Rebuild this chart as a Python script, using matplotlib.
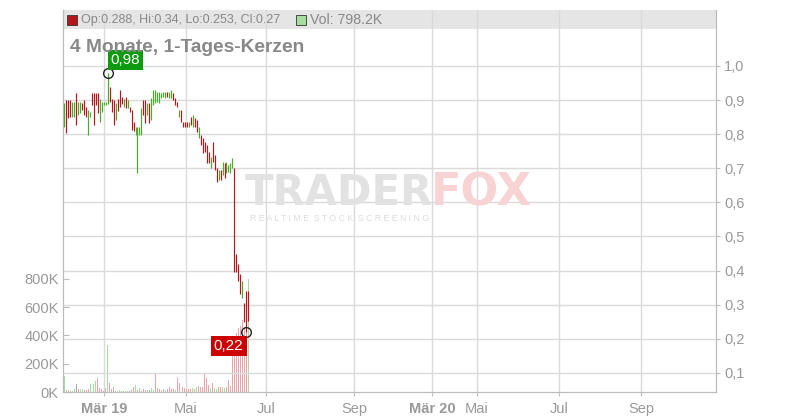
import matplotlib.pyplot as plt
from matplotlib.ticker import FixedLocator

plt.rcParams['font.family'] = ['Liberation Sans', 'DejaVu Sans']

# Kerzen: Hoch / Tief je Handelstag, Richtung g = steigend, r = fallend
highs = [0.891, 0.900, 0.900, 0.900, 0.893, 0.895, 0.920, 0.895, 0.895, 0.891,
         0.900, 0.881, 0.871, 0.866, 0.920, 0.920, 0.920, 0.920, 0.902, 0.895,
         0.895, 0.895, 0.980, 0.939, 0.902, 0.900, 0.891, 0.902, 0.930, 0.910,
         0.902, 0.910, 0.900, 0.881, 0.871, 0.837, 0.822, 0.822, 0.822, 0.876,
         0.900, 0.900, 0.891, 0.891, 0.905, 0.930, 0.928, 0.925, 0.925, 0.920,
         0.925, 0.925, 0.925, 0.925, 0.930, 0.920, 0.905, 0.895, 0.871, 0.871,
         0.837, 0.837, 0.837, 0.837, 0.851, 0.856, 0.847, 0.842, 0.822, 0.798,
         0.788, 0.778, 0.768, 0.749, 0.734, 0.778, 0.739, 0.700, 0.695, 0.695,
         0.719, 0.715, 0.719, 0.710, 0.715, 0.729, 0.700, 0.450, 0.420, 0.390,
         0.370, 0.305, 0.340, 0.340]
lows = [0.822, 0.803, 0.847, 0.851, 0.849, 0.851, 0.827, 0.856, 0.863, 0.871,
        0.856, 0.851, 0.798, 0.849, 0.884, 0.827, 0.884, 0.861, 0.837, 0.866,
        0.886, 0.886, 0.889, 0.895, 0.866, 0.827, 0.842, 0.869, 0.881, 0.889,
        0.881, 0.876, 0.876, 0.866, 0.812, 0.810, 0.798, 0.685, 0.798, 0.798,
        0.856, 0.832, 0.856, 0.832, 0.842, 0.886, 0.891, 0.895, 0.891, 0.905,
        0.910, 0.905, 0.910, 0.905, 0.905, 0.900, 0.886, 0.881, 0.851, 0.837,
        0.822, 0.822, 0.822, 0.822, 0.827, 0.822, 0.822, 0.807, 0.788, 0.768,
        0.744, 0.749, 0.715, 0.715, 0.700, 0.719, 0.695, 0.661, 0.666, 0.666,
        0.680, 0.671, 0.685, 0.690, 0.685, 0.700, 0.396, 0.396, 0.370, 0.330,
        0.320, 0.250, 0.220, 0.253]
dirs = ("grrrggrggr" "rrggrrrrgg" "gggrrrgrrr" "grgrrrgggg" "rrgrgggggg"
        "ggrggrrrgr" "rrrgrgrrgr" "rrrrgrrrgr" "grggggrrrr" "grrr")

# Volumen in Tausend, Farbe g / r / n (neutral)
volumes = [113, 14, 14, 9, 9, 19, 57, 21, 21, 21,
           14, 14, 21, 57, 7, 57, 78, 99, 26, 19,
           9, 26, 332, 66, 19, 35, 9, 9, 14, 7,
           7, 7, 7, 7, 14, 35, 49, 14, 26, 9,
           19, 14, 14, 14, 31, 14, 132, 26, 19, 14,
           19, 14, 19, 33, 19, 19, 14, 97, 61, 38,
           33, 26, 19, 19, 19, 26, 19, 33, 42, 33,
           33, 137, 97, 49, 26, 61, 26, 19, 38, 33,
           33, 26, 33, 85, 42, 261, 355, 417, 450, 470,
           509, 460, 674, 798]
vol_dirs = ("grgrggnrgg" "rrrggggrrr" "rrgrrrgggr" "rggnrrgrgg" "rrgnggr"
            "rrgrgrrrrg" "rrrrrrrrgr" "grrrrrrgrg" "grrggrrr" "rrrrrrrrg")

tick_pos = [20.1, 61.5, 102.0, 146.5, 185.9, 208.6, 250.1, 291.6]
tick_labels = ['Mär 19', 'Mai', 'Jul', 'Sep', 'Mär 20', 'Mai', 'Jul', 'Sep']
price_ticks = [0.1, 0.2, 0.3, 0.4, 0.5, 0.6, 0.7, 0.8, 0.9, 1.0]
vol_ticks = [0, 200, 400, 600, 800]

candle_col = {'g': '#4aaa2a', 'r': '#b5161b'}
vol_col = {'g': '#a6dca0', 'r': '#eaa3ab', 'n': '#aaaaaa'}
grey = '#999999'

fig = plt.figure(figsize=(8, 4.2), dpi=100)
axv = fig.add_axes([63 / 800, 28 / 420, 653 / 800, 382 / 420])
ax = axv.twinx()

x = list(range(len(highs)))

# Kopfzeile (grauer Balken)
axv.add_patch(plt.Rectangle((0, 0.95), 1, 0.05, transform=axv.transAxes,
                            facecolor='#e5e5e5', edgecolor='none', zorder=0))

# Volumen
axv.bar(x, volumes, width=0.5, color=[vol_col[c] for c in vol_dirs], zorder=2)
axv.set_ylim(0, 2700)
axv.set_xlim(-0.66, 329.5)
axv.yaxis.set_major_locator(FixedLocator(vol_ticks))
axv.set_yticklabels([f'{v}K' for v in vol_ticks])
axv.tick_params(axis='y', direction='in', length=4, color='#bbbbbb',
                labelcolor=grey, labelsize=10.5, pad=3)
axv.set_xticks(tick_pos)
axv.set_xticklabels(tick_labels)
for lbl in axv.get_xticklabels():
    if lbl.get_text().startswith('Mär'):
        lbl.set_fontweight('bold')
axv.tick_params(axis='x', direction='out', length=3, color='#bbbbbb',
                labelcolor=grey, labelsize=10.5, pad=4)
axv.grid(axis='x', color='#dadada', lw=1)
axv.set_axisbelow(True)

# Kerzen
ax.vlines(x, lows, highs, colors=[candle_col[c] for c in dirs], lw=0.85, zorder=3)
ax.set_ylim(0.044, 1.164)
ax.yaxis.set_major_locator(FixedLocator(price_ticks))
ax.set_yticklabels([f'{p:.1f}'.replace('.', ',') for p in price_ticks])
ax.tick_params(axis='y', direction='out', length=3, color='#bbbbbb',
               labelcolor=grey, labelsize=10.5, pad=3)
ax.grid(axis='y', color='#dadada', lw=1)
ax.set_axisbelow(True)

for a in (ax, axv):
    a.spines['top'].set_visible(False)
    for side in ('left', 'right', 'bottom'):
        a.spines[side].set_color('#bbbbbb')

# Hoch / Tief Markierungen
i_hi = highs.index(max(highs))
i_lo = lows.index(min(lows))
ax.plot([i_hi], [highs[i_hi]], 'o', ms=7, mfc='none', mec='#222222', mew=1, zorder=5)
ax.plot([i_lo], [lows[i_lo]], 'o', ms=7, mfc='none', mec='#222222', mew=1, zorder=5)
ax.annotate(f'{highs[i_hi]:.2f}'.replace('.', ','), xy=(i_hi, highs[i_hi]),
            xytext=(2, 4), textcoords='offset points', ha='left', va='bottom',
            color='white', fontsize=11, zorder=5,
            bbox=dict(boxstyle='square,pad=0.2', fc='#0f9a0f', ec='none'))
ax.annotate(f'{lows[i_lo]:.2f}'.replace('.', ','), xy=(i_lo, lows[i_lo]),
            xytext=(-2, -5), textcoords='offset points', ha='right', va='top',
            color='white', fontsize=11, zorder=5,
            bbox=dict(boxstyle='square,pad=0.2', fc='#cc0000', ec='none'))

# Wasserzeichen
ax.text(0.279, 0.522, 'TRADER', transform=ax.transAxes, fontsize=30,
        fontweight='bold', color='#e2e2e2', family='DejaVu Sans',
        ha='left', va='center', zorder=1)
ax.text(0.563, 0.522, 'FOX', transform=ax.transAxes, fontsize=32,
        fontweight='bold', color='#f7d3d3', family='DejaVu Sans',
        ha='left', va='center', zorder=1)
ax.text(0.286, 0.455, 'R E A L T I M E  S T O C K  S C R E E N I N G',
        transform=ax.transAxes, fontsize=6.3, color='#dcdcdc',
        ha='left', va='center', zorder=1)

# Kopfzeile und Titel
ax.plot([0.0138], [0.974], 's', ms=7, mfc='#b5161b', mec='#333333', mew=0.6,
        transform=ax.transAxes, clip_on=False, zorder=6)
ax.text(0.0276, 0.974, 'Op:0.288, Hi:0.34, Lo:0.253, Cl:0.27', transform=ax.transAxes,
        fontsize=9.0, color='#888888', ha='left', va='center', zorder=6)
ax.plot([0.3645], [0.974], 's', ms=7, mfc='#a6dca0', mec='#333333', mew=0.6,
        transform=ax.transAxes, clip_on=False, zorder=6)
ax.text(0.378, 0.974, 'Vol: 798.2K', transform=ax.transAxes,
        fontsize=10.2, color='#888888', ha='left', va='center', zorder=6)
ax.text(0.0107, 0.903, '4 Monate, 1-Tages-Kerzen', transform=ax.transAxes,
        fontsize=13.8, fontweight='bold', color='#888888', ha='left', va='center', zorder=6)

fig.savefig('out.png', dpi=100)
